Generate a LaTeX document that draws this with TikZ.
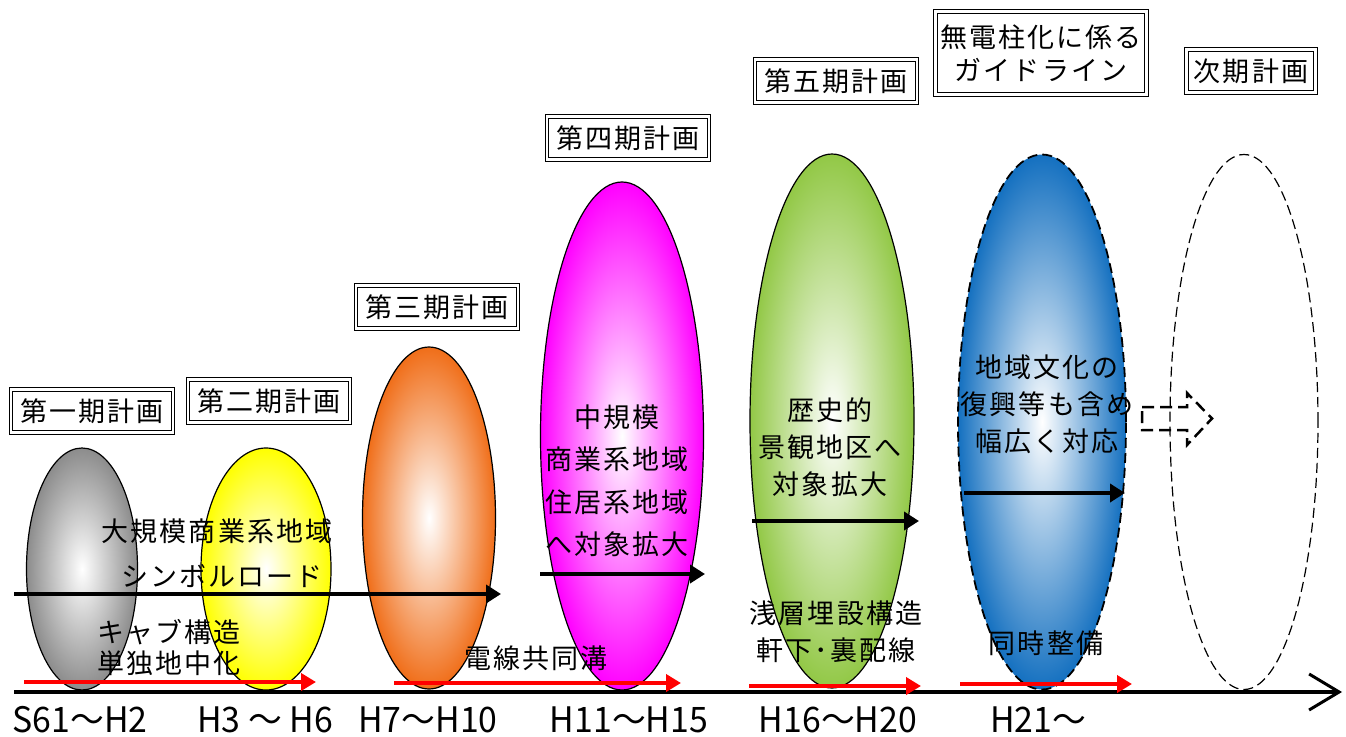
\documentclass[tikz,border=0pt]{standalone}
\usepackage{fontspec}
\setmainfont{Noto Sans CJK JP}
\newfontfamily\jpls[LetterSpace=8]{Noto Sans CJK JP}
\newcommand\jfont{\jpls\fontsize{27}{37}\selectfont}
\newcommand\axfont{\fontsize{26}{26}\selectfont}
\newcommand\axt[1]{\scalebox{1.3}[1.35]{#1}}
\usetikzlibrary{shapes.geometric,arrows.meta}
\definecolor{cgray}{RGB}{140,140,140}
\definecolor{cyellow}{RGB}{255,255,0}
\definecolor{corange}{RGB}{240,110,25}
\definecolor{cmagenta}{RGB}{255,0,255}
\definecolor{cgreen}{RGB}{146,200,70}
\definecolor{cblue}{RGB}{20,112,192}
\definecolor{cred}{RGB}{255,0,0}
\begin{document}
\begin{tikzpicture}[x=1pt,y=-1pt,
  plan/.style={draw=black, line width=1pt, double=white, double distance=2.5pt,
    minimum width=162pt, minimum height=43pt, inner sep=2pt, font=\jfont, align=center},
  oval/.style={ellipse, draw=black, line width=1.2pt, inner sep=0pt},
  blkarr/.style={line width=4.5pt, -{Triangle[length=15pt,width=18pt]}},
  redarr/.style={draw=cred, line width=4pt, -{Triangle[length=15pt,width=17pt]}},
  lbl/.style={font=\jfont, align=center, inner sep=0pt},
  axlbl/.style={font=\axfont, inner sep=0pt}
]
\useasboundingbox (0,0) rectangle (1346,736);

% ellipses
\node[oval, shade, inner color=white, outer color=cgray, minimum width=111pt, minimum height=242pt] (e1) at (82,569) {};
\node[oval, shade, inner color=white, outer color=cyellow, minimum width=130pt, minimum height=242pt] (e2) at (266,569) {};
\node[oval, shade, inner color=white, outer color=corange, minimum width=133pt, minimum height=342pt] (e3) at (429,518) {};
\node[oval, shade, inner color=white, outer color=cmagenta, minimum width=163pt, minimum height=508pt] (e4) at (622,436) {};
\node[oval, shade, inner color=white, outer color=cgreen, minimum width=164pt, minimum height=534pt] (e5) at (832,421) {};
\node[oval, shade, inner color=white, outer color=cblue, dash pattern=on 10pt off 5pt, line width=1.8pt, minimum width=168pt, minimum height=535pt] (e6) at (1042,422) {};
\node[oval, dash pattern=on 10pt off 5pt, line width=1.2pt, minimum width=148pt, minimum height=535pt] (e7) at (1244,422) {};

% plan boxes
\node[plan] (p1) at (92,411) {第一期計画};
\node[plan] (p2) at (269,401) {第二期計画};
\node[plan] (p3) at (437,307) {第三期計画};
\node[plan] (p4) at (628,138) {第四期計画};
\node[plan] (p5) at (836,81) {第五期計画};
\node[plan, minimum width=211pt, minimum height=83pt, font={\jpls\fontsize{27}{33}\selectfont}] (p6) at (1041,53) {無電柱化に係る\\ガイドライン};
\node[plan, minimum width=129pt] (p7) at (1251,71) {次期計画};

% axis
\coordinate (ax0) at (14,692);
\coordinate (ax1) at (1342,692);
\draw[line width=3.5pt, -{Straight Barb[length=30pt,width=36pt,line width=3pt]}] (ax0) -- (ax1);

% black arrows
\coordinate (b1s) at (14,594);  \coordinate (b1e) at (501,594);
\coordinate (b2s) at (540,574); \coordinate (b2e) at (705,574);
\coordinate (b3s) at (752,521); \coordinate (b3e) at (919,521);
\coordinate (b4s) at (964,493); \coordinate (b4e) at (1125,493);
\draw[blkarr] (b1s) -- (b1e);
\draw[blkarr] (b2s) -- (b2e);
\draw[blkarr] (b3s) -- (b3e);
\draw[blkarr] (b4s) -- (b4e);

% red arrows
\coordinate (r1s) at (24,682);  \coordinate (r1e) at (316,682);
\coordinate (r2s) at (394,683); \coordinate (r2e) at (681,683);
\coordinate (r3s) at (749,686); \coordinate (r3e) at (921,686);
\coordinate (r4s) at (960,684); \coordinate (r4e) at (1132,684);
\draw[redarr] (r1s) -- (r1e);
\draw[redarr] (r2s) -- (r2e);
\draw[redarr] (r3s) -- (r3e);
\draw[redarr] (r4s) -- (r4e);

% dashed block arrow
\draw[line width=2.5pt, dash pattern=on 12pt off 6pt] (1142,407) -- (1187,407) -- (1187,393) -- (1212,418.5) -- (1187,445) -- (1187,430) -- (1142,430) -- cycle;

% texts
\node[lbl] (t1) at (217,531) {大規模商業系地域};
\node[lbl] (t2) at (222,576) {シンボルロード};
\node[lbl, anchor=west, align=left, font={\jpls\fontsize{27}{31}\selectfont}] (t3) at (97,648) {キャブ構造\\単独地中化};
\node[lbl] (t4) at (536,658) {電線共同溝};
\node[lbl, font={\jpls\fontsize{27}{42.5}\selectfont}] (t5) at (617,481) {中規模\\商業系地域\\住居系地域\\へ対象拡大};
\node[lbl] (t6) at (830,447) {歴史的\\景観地区へ\\対象拡大};
\node[lbl] (t7) at (836,632) {浅層埋設構造\\軒下･裏配線};
\node[lbl] (t8) at (1047,404) {地域文化の\\復興等も含め\\幅広く対応};
\node[lbl] (t9) at (1046,643) {同時整備};

% axis labels
\node[axlbl] (x1) at (80,720) {\axt{S61～H2}};
\node[axlbl] (x2) at (265,720) {\axt{H3 ～ H6}};
\node[axlbl] (x3) at (428,720) {\axt{H7～H10}};
\node[axlbl] (x4) at (629,720) {\axt{H11～H15}};
\node[axlbl] (x5) at (838,720) {\axt{H16～H20}};
\node[axlbl] (x6) at (1038,720) {\axt{H21～}};
\end{tikzpicture}
\end{document}
